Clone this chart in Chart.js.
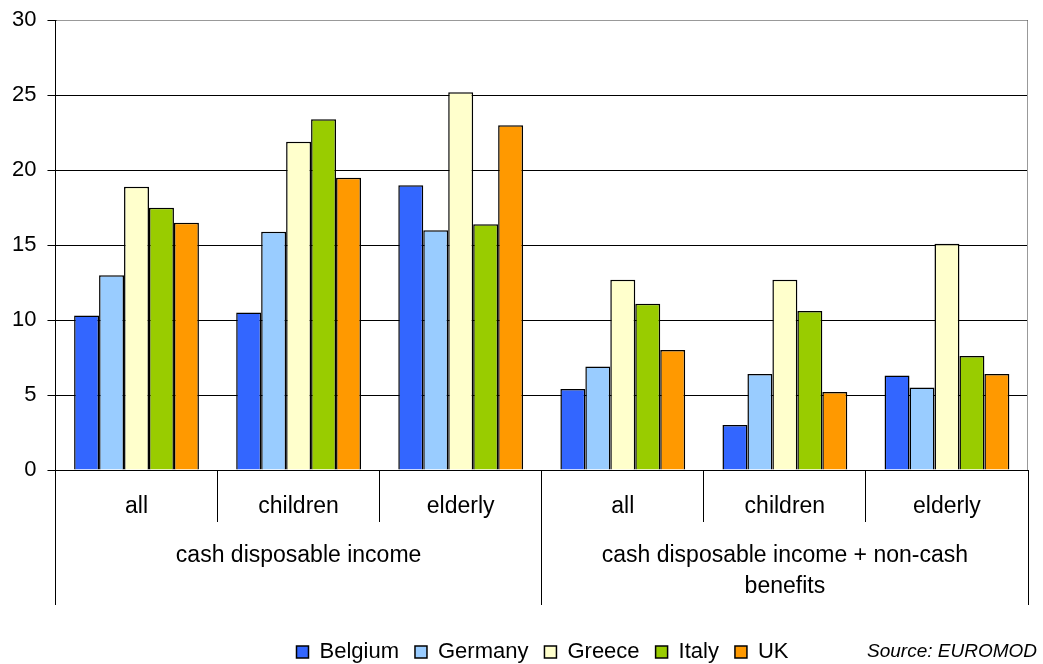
<!DOCTYPE html>
<html>
<head>
<meta charset="utf-8">
<title>Poverty rates by group</title>
<script src="https://cdn.jsdelivr.net/npm/chart.js@4.4.1/dist/chart.umd.min.js"></script>
<style>
  html, body { margin: 0; padding: 0; background: #fff; }
  #wrap { position: relative; width: 1043px; height: 664px; }
</style>
</head>
<body>
<div id="wrap"><canvas id="povertyChart" width="1043" height="664"></canvas></div>
<script>
// income concept (outer axis row) and population group (inner row)
const groups = ['cash disposable income', ['cash disposable income + non-cash', 'benefits']];
const subgroups = ['all', 'children', 'elderly', 'all', 'children', 'elderly'];
const yTicks = [0, 5, 10, 15, 20, 25, 30];

// poverty rates, %
const belgium = [10.3, 10.5, 19.0, 5.4, 3.0, 6.3];
const germany = [13.0, 15.9, 16.0, 6.9, 6.4, 5.5];
const greece  = [18.9, 21.9, 25.2, 12.7, 12.7, 15.1];
const italy   = [17.5, 23.4, 16.4, 11.1, 10.6, 7.6];
const uk      = [16.5, 19.5, 23.0, 8.0, 5.2, 6.4];

const sourceNote = 'Source: EUROMOD';

Chart.defaults.font.family = "'Liberation Sans', Arial, sans-serif";
Chart.defaults.color = '#000';

function bars(label, data, color) {
  return {
    label: label,
    data: data,
    backgroundColor: color,
    borderColor: '#000',
    borderWidth: 1.5,
    categoryPercentage: 0.77,
    barPercentage: 1.0
  };
}

// grey frame on top and right of the plot area
const plotFrame = {
  id: 'plotFrame',
  afterDatasetsDraw(chart) {
    const { ctx, chartArea: a } = chart;
    ctx.save();
    ctx.strokeStyle = '#999';
    ctx.lineWidth = 1;
    ctx.beginPath();
    ctx.moveTo(a.left + 1, Math.round(a.top) + 0.5);
    ctx.lineTo(Math.round(a.right) - 0.5, Math.round(a.top) + 0.5);
    ctx.lineTo(Math.round(a.right) - 0.5, a.bottom);
    ctx.stroke();
    ctx.restore();
  }
};

// legend sits a little right of centre and lower down, source note at the far right
const legendShiftX = 28;
const legendShiftY = 20;
const legendNudge = {
  id: 'legendNudge',
  afterLayout(chart) {
    const l = chart.legend;
    l.left += legendShiftX;
    l.right += legendShiftX;
    l.top += legendShiftY;
    l.bottom += legendShiftY;
  }
};

const sourceText = {
  id: 'sourceText',
  afterDraw(chart) {
    const ctx = chart.ctx;
    ctx.save();
    ctx.font = "italic 19px 'Liberation Sans', Arial, sans-serif";
    ctx.fillStyle = '#000';
    ctx.textAlign = 'right';
    ctx.textBaseline = 'alphabetic';
    ctx.fillText(sourceNote, chart.width - 6, 657);
    ctx.restore();
  }
};

const config = {
  type: 'bar',
  data: {
    labels: subgroups,
    datasets: [
      bars('Belgium', belgium, '#3366FF'),
      bars('Germany', germany, '#99CCFF'),
      bars('Greece', greece, '#FFFFCC'),
      bars('Italy', italy, '#99CC00'),
      bars('UK', uk, '#FF9900')
    ]
  },
  options: {
    responsive: false,
    animation: false,
    layout: { padding: { left: 1, right: 15, top: 10, bottom: 11 } },
    plugins: {
      tooltip: { enabled: false },
      legend: {
        position: 'bottom',
        labels: {
          boxWidth: 12,
          boxHeight: 12,
          padding: 16,
          color: '#000',
          font: { size: 22 }
        }
      }
    },
    scales: {
      x: {
        position: 'bottom',
        weight: 0,
        grid: { offset: true, drawOnChartArea: false, tickLength: 52, color: '#000' },
        border: { display: true, color: '#000' },
        ticks: { padding: -29, font: { size: 23 }, color: '#000', maxRotation: 0, autoSkip: false },
        afterFit: s => { s.height = 52; }
      },
      x2: {
        type: 'category',
        labels: groups,
        position: 'bottom',
        weight: 1,
        offset: true,
        grid: { offset: true, drawOnChartArea: false, tickLength: 83, color: '#000' },
        border: { display: false },
        ticks: { padding: -65, font: { size: 23, lineHeight: 1.35 }, color: '#000', maxRotation: 0, autoSkip: false },
        afterFit: s => { s.height = 83; }
      },
      y: {
        min: 0,
        max: 30,
        grid: { color: '#000', tickLength: 8 },
        border: { color: '#000' },
        ticks: { padding: 11, font: { size: 22, lineHeight: 0.85 }, color: '#000' },
        afterBuildTicks: s => { s.ticks = yTicks.map(v => ({ value: v })); }
      }
    }
  },
  plugins: [plotFrame, legendNudge, sourceText]
};

const povertyChart = new Chart(document.getElementById('povertyChart'), config);
</script>
</body>
</html>
